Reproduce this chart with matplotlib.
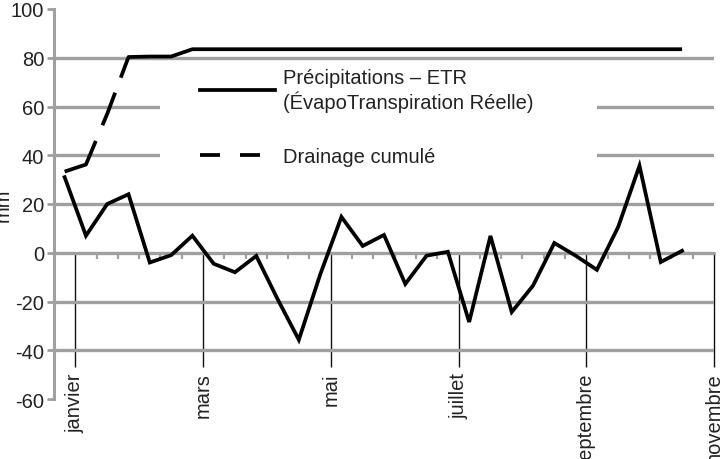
import matplotlib
matplotlib.use("Agg")
import matplotlib.pyplot as plt
from matplotlib.lines import Line2D
from matplotlib.patches import Rectangle
import numpy as np

plt.rcParams['font.family'] = ['Liberation Sans', 'DejaVu Sans']
plt.rcParams['lines.scale_dashes'] = False

# dekads (10-day periods) from early January to late October
dekads = list(range(30))
precip_minus_etr = [31, 7, 20, 24, -4, -1, 7, -4.5, -8, -1.3,
                    -19, -35.7, -9, 14.7, 2.8, 7.3, -12.8, -1.2, 0.4, -28.4,
                    6.9, -24.3, -13.5, 4, -1.2, -7, 10.6, 35.7, -3.8, 0.8]
drainage_cumule = [33.3, 36.2, 57, 80.3, 80.5, 80.5, 83.5, 83.5, 83.5, 83.5,
                   83.5, 83.5, 83.5, 83.5, 83.5, 83.5, 83.5, 83.5, 83.5, 83.5,
                   83.5, 83.5, 83.5, 83.5, 83.5, 83.5, 83.5, 83.5, 83.5, 83.5]
month_labels = ['janvier', 'mars', 'mai', 'juillet', 'septembre', 'novembre']
month_pos = [0.5, 6.5, 12.5, 18.5, 24.5, 30.5]
yticks = [-60, -40, -20, 0, 20, 40, 60, 80, 100]

FS = 14.5
GRID = '#a0a0a0'
fig = plt.figure(figsize=(7.22, 4.60), dpi=100)
ax = fig.add_axes([54/722, 1-400/460, 660/722, 390/460])
ax.set_xlim(-0.5, 30.5)
ax.set_ylim(-60, 100)
ax.set_axisbelow(True)

for s in ['top', 'right']:
    ax.spines[s].set_visible(False)
ax.spines['left'].set_color(GRID)
ax.spines['left'].set_linewidth(2.2)
ax.spines['bottom'].set_position(('data', 0))
ax.spines['bottom'].set_color(GRID)
ax.spines['bottom'].set_linewidth(2.0)

ax.set_yticks(yticks)
ax.set_yticklabels([str(v) for v in yticks])
ax.tick_params(axis='y', length=5, width=2, color=GRID, pad=2,
               labelsize=FS, labelcolor='#222222')
ax.yaxis.grid(True, color=GRID, linewidth=2.4)
gl = ax.yaxis.get_gridlines()
gl[0].set_visible(False)
gl[-1].set_visible(False)

ax.set_xticks(month_pos)
ax.set_xticklabels(month_labels, rotation=90, ha='center', va='top')
ax.set_xticks(np.arange(0.5, 30.5, 1.0), minor=True)
ax.tick_params(axis='x', which='major', length=82, width=1.0, color='#111111',
               pad=4, labelsize=FS, labelcolor='#222222')
ax.tick_params(axis='x', which='minor', length=4, width=1.6, color=GRID)

# legend background
ax.add_patch(Rectangle((0.1606, 0.538), 0.662, 0.321, transform=ax.transAxes,
                       facecolor='white', edgecolor='none', zorder=1))

ax.plot(dekads, precip_minus_etr, color='black', lw=2.7, zorder=3,
        solid_joinstyle='miter')
dl, = ax.plot(dekads, drainage_cumule, color='black', lw=2.7, zorder=3)
dl.set_dashes([48*0.72, 17*0.72, 35*0.72, 16*0.72, 800*0.72, 10])

ax.set_ylabel('mm', fontsize=FS, color='#222222')
ax.yaxis.set_label_coords(-0.063, 0.5)

h1 = Line2D([], [], color='black', lw=2.7)
h2 = Line2D([], [], color='black', lw=2.7, dashes=[14.4, 14.4])
leg = ax.legend([h1, h2], ['Précipitations – ETR\n(ÉvapoTranspiration Réelle)', 'Drainage cumulé'],
                loc='upper left', bbox_to_anchor=(200/722, 1-69/460),
                bbox_transform=fig.transFigure, frameon=False, fontsize=FS,
                handlelength=3.72, handletextpad=0.4, borderpad=0,
                borderaxespad=0, labelspacing=1.75)
for t in leg.get_texts():
    t.set_color('#222222')

fig.savefig('out.png', dpi=100)
